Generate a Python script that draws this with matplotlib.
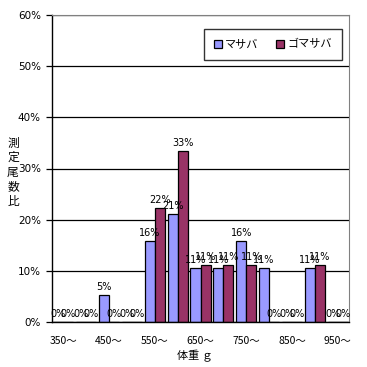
import numpy as np
import matplotlib
matplotlib.use("Agg")
import matplotlib.pyplot as plt

plt.rcParams['font.family'] = ['Noto Sans CJK JP', 'DejaVu Sans']

categories = ["350～", "400～", "450～", "500～", "550～", "600～", "650～",
              "700～", "750～", "800～", "850～", "900～", "950～"]
masaba = [0, 0, 5.26, 0, 15.79, 21.05, 10.53, 10.53, 15.79, 10.53, 0, 10.53, 0]
gomasaba = [0, 0, 0, 0, 22.22, 33.33, 11.11, 11.11, 11.11, 0, 0, 11.11, 0]
series_names = ["マサバ", "ゴマサバ"]
colors = ["#9999FF", "#993366"]

fig = plt.figure(figsize=(3.67, 3.67), dpi=100)
ax = fig.add_axes([52/367, 1-322/367, 297/367, 307/367])

x = np.arange(len(categories))
w = 0.44
for vals, off, c, name in [(masaba, -w/2, colors[0], series_names[0]),
                            (gomasaba, w/2, colors[1], series_names[1])]:
    ax.bar(x + off, vals, width=w, color=c, edgecolor="black",
           linewidth=0.9, label=name)
    for xi, v in zip(x + off, vals):
        ax.text(xi, v + 0.6, f"{int(v + 0.5)}%", ha="center", va="bottom",
                fontsize=7, family=['DejaVu Sans'])

ax.set_xlim(-0.5, len(categories) - 0.5)
ax.set_ylim(0, 60)
ax.set_yticks(np.arange(0, 61, 10))
ax.set_yticklabels([f"{t}%" for t in range(0, 61, 10)], fontsize=7.5,
                   family=['DejaVu Sans'])
ax.yaxis.grid(True, color="black", linewidth=0.9)
ax.set_axisbelow(True)
ax.tick_params(axis="y", length=4, width=0.9, pad=4)
ax.set_xticks(x[::2])
ax.set_xticklabels(categories[::2], fontsize=7.5)
ax.tick_params(axis="x", length=0, pad=10)

for s in ["top", "right"]:
    ax.spines[s].set_color("gray")
for s in ["left", "bottom"]:
    ax.spines[s].set_color("black")
    ax.spines[s].set_linewidth(1.0)

fig.text(13/367, 1-172/367, "測\n定\n尾\n数\n比", fontsize=8.5, ha="center",
         va="center", linespacing=1.15)
fig.text(195/367, 1-356/367, "体重 ｇ", fontsize=8, ha="center", va="center")

leg = ax.legend(loc="upper right", bbox_to_anchor=(0.995, 0.971), ncol=2,
                fontsize=8, frameon=True, fancybox=False, edgecolor="black",
                handlelength=0.7, handleheight=0.7, handletextpad=0.3,
                columnspacing=1.6, borderpad=0.9)
leg.get_frame().set_linewidth(1.0)

fig.savefig("out.png", dpi=100)
